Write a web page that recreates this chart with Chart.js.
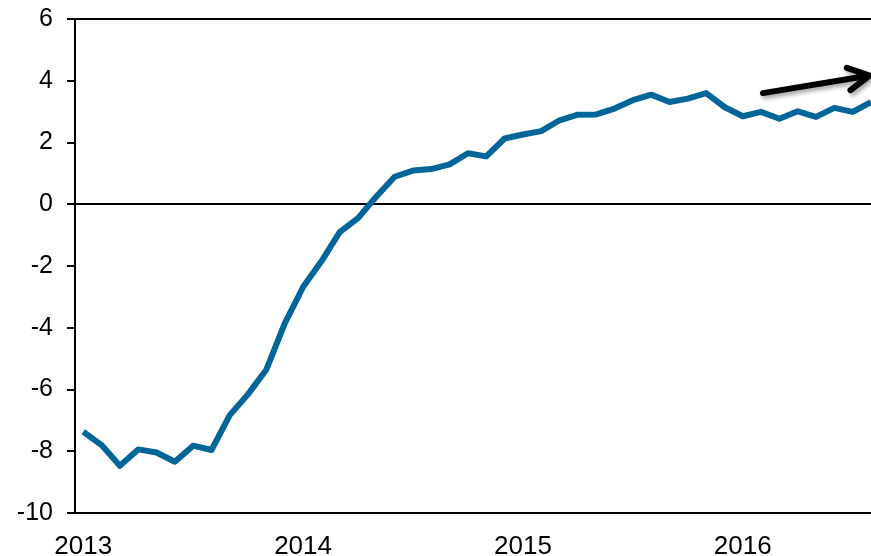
<!DOCTYPE html>
<html>
<head>
<meta charset="utf-8">
<script src="https://cdn.jsdelivr.net/npm/chart.js@4/dist/chart.umd.min.js"></script>
<style>
  html, body { margin: 0; padding: 0; background: #fff; }
  #wrap { width: 871px; height: 556px; position: relative; }
</style>
</head>
<body>
<div id="wrap"><canvas id="c"></canvas></div>
<script>
// Monthly series, index 0 = Jan 2013
const values = [
  -7.37, -7.80, -8.47, -7.94, -8.04, -8.34, -7.82, -7.96, -6.83, -6.15, -5.35, -3.86,
  -2.68, -1.85, -0.90, -0.45, 0.25, 0.89, 1.09, 1.14, 1.29, 1.65, 1.55, 2.13,
  2.26, 2.37, 2.72, 2.90, 2.91, 3.10, 3.37, 3.55, 3.31, 3.42, 3.60, 3.15,
  2.85, 2.99, 2.77, 3.01, 2.83, 3.12, 2.99, 3.31
];
const yearLabels = ['2013', '2014', '2015', '2016'];
const yearTickIndex = [0, 12, 24, 36];
const yTicks = [-10, -8, -6, -4, -2, 0, 2, 4, 6];
const refLines = [0, 6];
// annotation arrow, in data units (month index, value)
const arrowStart = [37.1, 3.60];
const arrowEnd = [42.92, 4.17];

const points = values.map((v, i) => ({ x: i, y: v }));
const FONT = "'Liberation Sans', Arial, sans-serif";

const arrowPlugin = {
  id: 'arrow',
  afterDatasetsDraw(chart) {
    const { ctx, scales: { x, y } } = chart;
    const x0 = x.getPixelForValue(arrowStart[0]), y0 = y.getPixelForValue(arrowStart[1]);
    const x1 = x.getPixelForValue(arrowEnd[0]), y1 = y.getPixelForValue(arrowEnd[1]);
    const ang = Math.atan2(y1 - y0, x1 - x0);
    const head = 24, spread = 28 * Math.PI / 180;
    ctx.save();
    ctx.strokeStyle = '#000';
    ctx.lineWidth = 6;
    ctx.lineCap = 'round';
    ctx.lineJoin = 'round';
    ctx.shadowColor = 'rgba(0,0,0,0.35)';
    ctx.shadowBlur = 4;
    ctx.shadowOffsetX = 2;
    ctx.shadowOffsetY = 3;
    ctx.beginPath();
    ctx.moveTo(x0, y0);
    ctx.lineTo(x1, y1);
    ctx.moveTo(x1 - head * Math.cos(ang - spread), y1 - head * Math.sin(ang - spread));
    ctx.lineTo(x1, y1);
    ctx.lineTo(x1 - head * Math.cos(ang + spread), y1 - head * Math.sin(ang + spread));
    ctx.stroke();
    ctx.restore();
  }
};

new Chart(document.getElementById('c'), {
  type: 'line',
  data: {
    datasets: [{
      data: points,
      borderColor: '#006699',
      borderWidth: 6,
      pointRadius: 0,
      tension: 0,
      borderJoinStyle: 'round',
      fill: false
    }]
  },
  options: {
    responsive: true,
    maintainAspectRatio: false,
    animation: false,
    events: [],
    layout: { padding: { top: 19, left: 0, right: 0, bottom: 0 } },
    plugins: { legend: { display: false }, tooltip: { enabled: false } },
    scales: {
      x: {
        type: 'linear',
        min: -0.45,
        max: 43,
        afterBuildTicks: s => { s.ticks = yearTickIndex.map(v => ({ value: v })); },
        afterFit: s => { s.height = 43; s.paddingLeft = 0; s.paddingRight = 0; },
        ticks: {
          autoSkip: false,
          maxRotation: 0,
          padding: 18,
          color: '#000',
          font: { family: FONT, size: 26 },
          callback: v => yearLabels[yearTickIndex.indexOf(v)]
        },
        grid: { display: false, drawTicks: false },
        border: { color: '#000', width: 2 }
      },
      y: {
        min: yTicks[0],
        max: yTicks[yTicks.length - 1],
        afterBuildTicks: s => { s.ticks = yTicks.map(v => ({ value: v })); },
        afterFit: s => { s.width = 75; s.paddingTop = 0; s.paddingBottom = 0; },
        ticks: {
          padding: 14,
          color: '#000',
          font: { family: FONT, size: 25 }
        },
        grid: {
          drawOnChartArea: true,
          color: c => (c.tick && refLines.includes(c.tick.value)) ? '#000' : 'rgba(0,0,0,0)',
          lineWidth: 2,
          tickLength: 8,
          tickColor: '#000',
          tickWidth: 2
        },
        border: { color: '#000', width: 2 }
      }
    }
  },
  plugins: [arrowPlugin]
});
</script>
</body>
</html>
